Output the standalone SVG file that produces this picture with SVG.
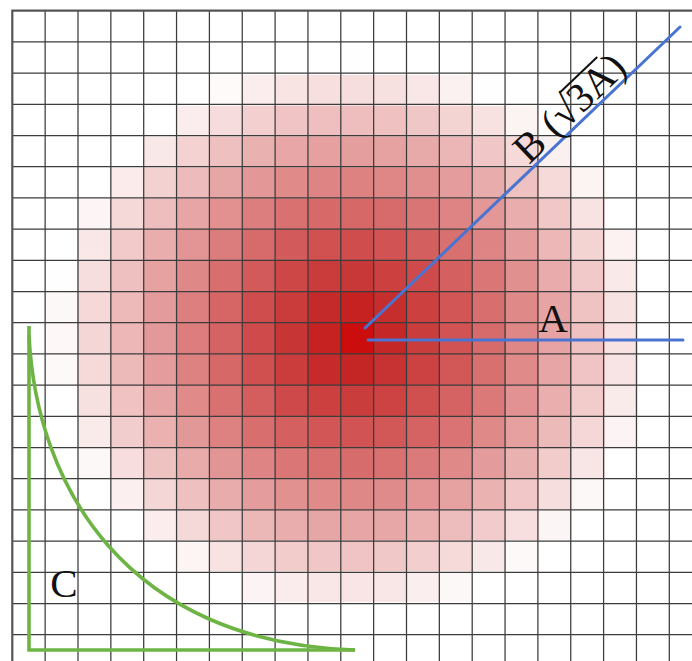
<svg xmlns="http://www.w3.org/2000/svg" width="692" height="661" viewBox="0 0 692 661">
  <defs>
    <radialGradient id="heat" gradientUnits="userSpaceOnUse" cx="352" cy="335" r="300" gradientTransform="translate(352 335) scale(1 0.92) translate(-352 -335)">
      <stop offset="0" stop-color="#cf0b0b"/>
      <stop offset="0.12" stop-color="#c42626"/>
      <stop offset="0.3" stop-color="#ce4848"/>
      <stop offset="0.5" stop-color="#da7575"/>
      <stop offset="0.7" stop-color="#e8a8a8"/>
      <stop offset="0.86" stop-color="#f5d6d6"/>
      <stop offset="1" stop-color="#ffffff"/>
    </radialGradient>
    <filter id="pix" filterUnits="userSpaceOnUse" x="0" y="0" width="692" height="661">
      <feFlood x="357" y="338" width="1" height="1" flood-color="#000" flood-opacity="1"/>
      <feOffset dx="0" dy="0" x="341" y="323" width="33" height="31"/>
      <feTile result="dots"/>
      <feComposite in="SourceGraphic" in2="dots" operator="in"/>
      <feMorphology operator="dilate" radius="16 15"/>
    </filter>
    <style>
      .grid { stroke: #3c3c3c; stroke-width: 1.25; fill: none; }
      .border { stroke: #555; stroke-width: 2.2; fill: none; }
      .blue { stroke: #4a74d2; stroke-width: 3; fill: none; stroke-linecap: round; }
      .green { stroke: #6db445; stroke-width: 3.6; fill: none; }
      .lbl { font-family: "Liberation Serif", "Times New Roman", serif; font-size: 41px; fill: #111; }
    </style>
  </defs>
  <rect x="0" y="0" width="692" height="661" fill="#ffffff"/>
  <g id="heatmap">
    <rect x="0" y="0" width="692" height="661" fill="url(#heat)" filter="url(#pix)"/>
  </g>
  <g id="grid">
    <path class="grid" d="M45.15 10.7V661M78 10.7V661M110.85 10.7V661M143.7 10.7V661M176.55 10.7V661M209.4 10.7V661M242.25 10.7V661M275.1 10.7V661M307.95 10.7V661M340.8 10.7V661M373.65 10.7V661M406.5 10.7V661M439.35 10.7V661M472.2 10.7V661M505.05 10.7V661M537.9 10.7V661M570.75 10.7V661M603.6 10.7V661M636.45 10.7V661M669.3 10.7V661"/>
    <path class="grid" d="M12.3 41.9H692M12.3 73.1H692M12.3 104.3H692M12.3 135.5H692M12.3 166.7H692M12.3 197.9H692M12.3 229.1H692M12.3 260.3H692M12.3 291.5H692M12.3 322.7H692M12.3 353.9H692M12.3 385.1H692M12.3 416.3H692M12.3 447.5H692M12.3 478.7H692M12.3 509.9H692M12.3 541.1H692M12.3 572.3H692M12.3 603.5H692M12.3 634.7H692"/>
    <path class="border" d="M12.3 661V10.7H692"/>
  </g>
  <g id="connectors">
    <line id="lineA" class="blue" x1="368" y1="340" x2="683" y2="340"/>
    <line id="lineB" class="blue" x1="365" y1="328" x2="680" y2="27"/>
  </g>
  <g id="curveC">
    <path class="green" d="M29 326V650H355"/>
    <path class="green" d="M29 335C36 485 125 642 355 650"/>
  </g>
  <g id="labelA">
    <text class="lbl" x="553" y="332" text-anchor="middle">A</text>
  </g>
  <g id="labelB" transform="translate(529 165) rotate(-43.7)">
    <text class="lbl" x="0" y="0">B (√3A)</text>
    <line x1="72" y1="-31" x2="124" y2="-31" stroke="#111" stroke-width="2"/>
  </g>
  <g id="labelC">
    <text class="lbl" x="64" y="597" text-anchor="middle">C</text>
  </g>
</svg>
